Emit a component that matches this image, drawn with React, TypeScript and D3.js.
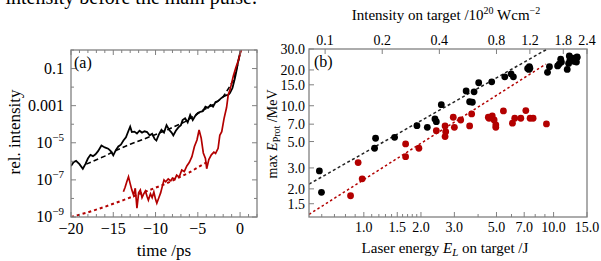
import * as d3 from "d3";

// panel (a): contrast curve, time in ps, intensity as log10 exponent
const blackT = [-20, -19.7, -19.4, -19, -18.6, -18.3, -18, -17.7, -17.4, -17.1, -16.8, -16.4, -16, -15.6, -15.3, -15, -14.7, -14.4, -14.1, -13.8, -13.5, -13.2, -13, -12.8, -12.5, -12.2, -11.9, -11.6, -11.3, -11, -10.7, -10.4, -10.1, -9.9, -9.6, -9.3, -9, -8.7, -8.4, -8.1, -7.9, -7.6, -7.3, -7, -6.8, -6.5, -6.2, -5.9, -5.6, -5.3, -5, -4.7, -4.4, -4.1, -3.8, -3.5, -3.2, -2.9, -2.6, -2.3, -2, -1.7, -1.4, -1.2, -0.9, -0.6, -0.4, -0.2, 0, 0.2];
const blackLog = [-6.25, -6.05, -5.98, -6.15, -6.4, -6.15, -5.85, -5.65, -5.72, -5.62, -5.45, -5.15, -5.25, -5.32, -5.45, -5.68, -5.4, -5.2, -5.1, -4.88, -4.7, -4.35, -4.13, -4.42, -4.4, -4.5, -4.35, -4.45, -4.38, -4.42, -4.6, -4.52, -4.8, -4.88, -4.55, -4.3, -4.45, -4.05, -4.3, -4.45, -4.6, -4.35, -4.17, -4.05, -3.78, -3.68, -3.9, -3.5, -3.78, -3.55, -3.4, -3.33, -3.3, -3.05, -3.12, -2.96, -3.05, -2.8, -2.75, -2.62, -2.52, -2.45, -2.42, -2.32, -2.05, -1.5, -1.05, -0.55, -0.16, 0.3];

const blackFitT = [-18.2, -16, -15, -13, -10.65, -8.5, -6.5, -4.35, -3, -2, -1.2, -0.8, -0.4, 0];
const blackFitLog = [-6.15, -5.72, -5.48, -5.08, -4.67, -4.28, -3.86, -3.23, -2.9, -2.52, -1.95, -1.62, -1.0, -0.2];

const redT = [-13.8, -13.6, -13.4, -13.2, -13, -12.8, -12.6, -12.4, -12.2, -12, -11.8, -11.6, -11.4, -11.2, -11, -10.85, -10.6, -10.4, -10.2, -10, -9.85, -9.6, -9.4, -9.2, -9, -8.8, -8.5, -8.2, -8, -7.7, -7.5, -7.2, -6.9, -6.6, -6.3, -6, -5.7, -5.4, -5.1, -4.85, -4.6, -4.35, -4.1, -3.95, -3.7, -3.4, -3.1, -2.9, -2.6, -2.4, -2.17, -1.9, -1.6, -1.4, -1.2, -0.8, -0.5, -0.2, 0.1, 0.3];
const redLog = [-7.64, -7.4, -7.1, -6.83, -7.2, -7.55, -7.82, -7.45, -8.53, -7.7, -7.55, -7.95, -7.75, -7.6, -7.9, -8.09, -7.75, -7.95, -7.65, -8.05, -8.26, -7.95, -7.7, -7.35, -7.0, -7.1, -6.95, -7.05, -6.9, -6.95, -6.74, -6.85, -6.47, -6.55, -6.25, -6.05, -5.75, -5.2, -4.85, -4.31, -4.75, -5.55, -5.84, -6.4, -5.9, -5.65, -5.5, -5.57, -5.3, -4.6, -4.4, -3.7, -3.1, -2.4, -2.16, -1.4, -0.95, -0.55, -0.05, 0.2];

const redFitT = [-20, -18, -16, -13.8, -11, -8.7, -6, -3.95];
const redFitLog = [-9.0, -8.75, -8.45, -8.09, -7.6, -7.19, -6.6, -6.05];

const timeTicks = [-20, -15, -10, -5, 0];
const intensityTicks = [1e-1, 1e-3, 1e-5, 1e-7, 1e-9];
const intensityLabels = ["0.1", "0.001", "10|−5", "10|−7", "10|−9"];
const intensityMinor = [1, 1e-2, 1e-4, 1e-6, 1e-8];

// panel (b): laser energy (J) vs max proton energy (MeV)
const blackE = [0.583, 0.598, 1.153, 1.139, 1.452, 1.905, 2.16, 2.37, 2.41, 2.56, 3.46, 3.61, 3.73, 3.81, 4.03, 4.72, 5.53, 5.97, 6.14, 7.3, 7.45, 7.41, 7.5, 9.29, 9.51, 10.5, 10.7, 10.9, 11.0, 11.8, 12.0, 12.1, 12.2, 12.6, 12.6, 12.9, 13.0, 13.2, 13.3, 13.3];
const blackMax = [2.83, 1.87, 5.33, 4.39, 5.43, 6.8, 6.59, 7.74, 7.35, 10.2, 13.3, 10.8, 10.7, 13.1, 15.6, 15.9, 17.5, 18.5, 17.5, 20.6, 21.3, 20.2, 20.7, 19.1, 21.3, 21.6, 22.4, 24.6, 23.3, 20.2, 22.7, 26.2, 24.3, 23.9, 25.1, 23.6, 25.1, 23.3, 25.5, 25.7];

const redE = [0.851, 0.98, 0.933, 1.66, 1.66, 1.95, 2.41, 2.68, 2.7, 2.68, 2.96, 3.0, 3.24, 3.61, 3.7, 4.53, 4.57, 4.75, 4.86, 4.96, 4.96, 5.44, 6.07, 6.24, 6.72, 7.14, 7.52, 7.8, 9.17];
const redMax = [1.75, 2.43, 3.33, 4.77, 3.73, 4.39, 6.17, 6.76, 6.05, 5.5, 8.0, 6.59, 7.59, 6.76, 8.53, 8.0, 7.85, 8.2, 7.59, 6.89, 6.59, 9.04, 7.13, 7.85, 7.85, 9.1, 7.85, 7.85, 7.03];

const blackFitE = [0.514, 9.27];
const blackFitMax = [2.19, 30];
const redFitE = [0.514, 9.1];
const redFitMax = [1.22, 22.4];

const energyTicks = [1, 1.5, 2, 3, 5, 7, 10, 15];
const energyMinor = [0.6, 0.7, 0.8, 0.9, 1.1, 1.2, 1.3, 1.4, 1.6, 1.7, 1.8, 1.9, 4, 6, 8, 9];
const protonTicks = [1.5, 2, 3, 5, 7, 10, 15, 20, 30];
const intensTopTicks = [0.1, 0.2, 0.4, 0.8, 1.2, 1.8, 2.4];

const A = { left: 71, right: 257, top: 50, bottom: 217 };
const B = { left: 309, right: 587, top: 49, bottom: 217 };
const font = "Liberation Serif";
const RED = "#b30000";
const FRAME = "#808080";

export default function App() {
  const xa = d3.scaleLinear().domain([-20, 2]).range([A.left, A.right]);
  const ya = d3.scaleLog().domain([1e-9, 1]).range([A.bottom, A.top]);
  const lineA = d3
    .line<[number, number]>()
    .x((d) => xa(d[0]))
    .y((d) => ya(10 ** d[1]));
  const zip = (a: number[], b: number[]) => a.map((v, i) => [v, b[i]] as [number, number]);

  const xb = d3.scaleLog().domain([0.514, 15]).range([B.left, B.right]);
  const xt = d3.scaleLog().domain([0.514 * 0.16, 2.4]).range([B.left, B.right]);
  const yb = d3.scaleLog().domain([1.16, 30]).range([B.bottom, B.top]);
  const lineB = d3
    .line<[number, number]>()
    .x((d) => xb(d[0]))
    .y((d) => yb(d[1]));

  const minorTime = d3.range(-19, 3, 1).filter((t) => t % 5 !== 0);

  return (
    <svg width={601} height={261} style={{ position: "absolute", left: 0, top: 0 }} fontFamily={font}>
      <defs>
        <clipPath id="clipA">
          <rect x={A.left} y={A.top} width={A.right - A.left} height={A.bottom - A.top} />
        </clipPath>
        <clipPath id="clipB">
          <rect x={B.left} y={B.top} width={B.right - B.left} height={B.bottom - B.top} />
        </clipPath>
      </defs>

      {/* caption line from the page above, cut by the crop */}
      <text x={257} y={4} fontSize={20} textAnchor="end">intensity before the main pulse.</text>

      {/* panel (a) */}
      <g clipPath="url(#clipA)" fill="none">
        <path d={lineA(zip(redFitT, redFitLog)) ?? ""} stroke={RED} strokeWidth={2} strokeDasharray="3,3" />
        <path d={lineA(zip(blackFitT, blackFitLog)) ?? ""} stroke="#000" strokeWidth={1.6} strokeDasharray="5,3" />
        <path d={lineA(zip(blackT, blackLog)) ?? ""} stroke="#000" strokeWidth={1.8} />
        <path d={lineA(zip(redT, redLog)) ?? ""} stroke={RED} strokeWidth={1.7} />
      </g>
      <rect x={A.left} y={A.top} width={A.right - A.left} height={A.bottom - A.top} fill="none" stroke={FRAME} strokeWidth={1.3} />
      <g stroke={FRAME} strokeWidth={1}>
        {timeTicks.map((t) => (
          <g key={t}>
            <line x1={xa(t)} x2={xa(t)} y1={A.bottom} y2={A.bottom - 5} />
            <line x1={xa(t)} x2={xa(t)} y1={A.top} y2={A.top + 5} />
          </g>
        ))}
        {minorTime.map((t) => (
          <g key={t}>
            <line x1={xa(t)} x2={xa(t)} y1={A.bottom} y2={A.bottom - 3} />
            <line x1={xa(t)} x2={xa(t)} y1={A.top} y2={A.top + 3} />
          </g>
        ))}
        {intensityTicks.map((v) => (
          <g key={v}>
            <line x1={A.left} x2={A.left + 5} y1={ya(v)} y2={ya(v)} />
            <line x1={A.right} x2={A.right - 5} y1={ya(v)} y2={ya(v)} />
          </g>
        ))}
        {intensityMinor.map((v) => (
          <g key={v}>
            <line x1={A.left} x2={A.left + 3} y1={ya(v)} y2={ya(v)} />
            <line x1={A.right} x2={A.right - 3} y1={ya(v)} y2={ya(v)} />
          </g>
        ))}
      </g>
      <g fontSize={16} fill="#000">
        {timeTicks.map((t) => (
          <text key={t} x={xa(t)} y={234} textAnchor="middle">
            {t < 0 ? `−${-t}` : t}
          </text>
        ))}
        {intensityTicks.map((v, i) => {
          const [base, sup] = intensityLabels[i].split("|");
          return (
            <text key={v} x={64} y={ya(v) + 5} textAnchor="end">
              {base}
              {sup && (
                <tspan dy={-7} fontSize={11}>
                  {sup}
                </tspan>
              )}
            </text>
          );
        })}
        <text x={164} y={256} textAnchor="middle" fontSize={17}>time /ps</text>
        <text transform="translate(20,132) rotate(-90)" textAnchor="middle" fontSize={17}>rel. intensity</text>
        <text x={74} y={68}>(a)</text>
      </g>

      {/* panel (b) */}
      <g clipPath="url(#clipB)">
        <path d={lineB(zip(blackFitE, blackFitMax)) ?? ""} fill="none" stroke="#222" strokeWidth={1.5} strokeDasharray="3,2.5" />
        <path d={lineB(zip(redFitE, redFitMax)) ?? ""} fill="none" stroke={RED} strokeWidth={1.5} strokeDasharray="2.5,2.5" />
        {blackE.map((e, i) => (
          <circle key={`k${i}`} cx={xb(e)} cy={yb(blackMax[i])} r={3.4} fill="#000" />
        ))}
        {redE.map((e, i) => (
          <circle key={`r${i}`} cx={xb(e)} cy={yb(redMax[i])} r={3.4} fill={RED} />
        ))}
      </g>
      <rect x={B.left} y={B.top} width={B.right - B.left} height={B.bottom - B.top} fill="none" stroke={FRAME} strokeWidth={1.3} />
      <g stroke={FRAME} strokeWidth={1}>
        {energyTicks.map((e) => (
          <line key={e} x1={xb(e)} x2={xb(e)} y1={B.bottom} y2={B.bottom - 5} />
        ))}
        {energyMinor.map((e) => (
          <line key={e} x1={xb(e)} x2={xb(e)} y1={B.bottom} y2={B.bottom - 3} />
        ))}
        {intensTopTicks.map((v) => (
          <line key={v} x1={xt(v)} x2={xt(v)} y1={B.top} y2={B.top + 5} />
        ))}
        {protonTicks.map((v) => (
          <line key={v} x1={B.left} x2={B.left + 5} y1={yb(v)} y2={yb(v)} />
        ))}
      </g>
      <g fontSize={14} fill="#000">
        {energyTicks.map((e) => (
          <text key={e} x={xb(e)} y={232} textAnchor="middle">
            {e.toFixed(1)}
          </text>
        ))}
        {intensTopTicks.map((v) => (
          <text key={v} x={xt(v)} y={45} textAnchor="middle">
            {v}
          </text>
        ))}
        {protonTicks.map((v) => (
          <text key={v} x={305} y={yb(v) + 5} textAnchor="end">
            {v.toFixed(1)}
          </text>
        ))}
        <text x={314} y={67} fontSize={16}>(b)</text>
      </g>
      <g fontSize={15} fill="#000">
        <text x={446} y={20} textAnchor="middle">
          Intensity on target /10<tspan dy={-6} fontSize={10}>20</tspan>
          <tspan dy={6}> Wcm</tspan>
          <tspan dy={-6} fontSize={10}>−2</tspan>
        </text>
        <text x={445} y={253} textAnchor="middle">
          Laser energy <tspan fontStyle="italic">E</tspan>
          <tspan dy={3} fontSize={11} fontStyle="italic">L</tspan>
          <tspan dy={-3}> on target /J</tspan>
        </text>
        <text transform="translate(277,134) rotate(-90)" textAnchor="middle" fontSize={14}>
          max <tspan fontStyle="italic">E</tspan>
          <tspan dy={3} fontSize={10}>Prot</tspan>
          <tspan dy={-3}> /MeV</tspan>
        </text>
      </g>
    </svg>
  );
}
